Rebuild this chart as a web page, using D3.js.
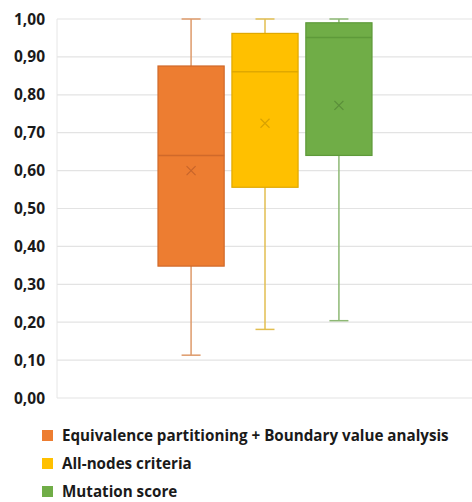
<!DOCTYPE html>
<html>
<head>
<meta charset="utf-8">
<script src="https://cdn.jsdelivr.net/npm/d3@7"></script>
<style>
  html, body { margin: 0; padding: 0; background: #fff; }
  svg { display: block; }
  text { font-family: "Open Sans", "Liberation Sans", sans-serif; font-weight: 700; fill: #1a1a1a; }
</style>
</head>
<body>
<svg id="chart" width="472" height="502"></svg>
<script>
// Series names and box-plot statistics
const seriesNames = [
  "Equivalence partitioning + Boundary value analysis",
  "All-nodes criteria",
  "Mutation score"
];
const minValues    = [0.113, 0.181, 0.204];
const q1Values     = [0.348, 0.556, 0.640];
const medianValues = [0.640, 0.861, 0.951];
const q3Values     = [0.876, 0.962, 0.990];
const maxValues    = [1.000, 1.000, 1.000];
const meanValues   = [0.600, 0.725, 0.772];
const yTicks = [0, 0.1, 0.2, 0.3, 0.4, 0.5, 0.6, 0.7, 0.8, 0.9, 1.0];

const fills   = ["#ED7D31", "#FFC000", "#70AD47"];
const strokes = ["#D0692A", "#E0A800", "#5E9A3A"];
const whisk   = ["#DE9A6A", "#E2BE50", "#8DB874"];
const marks   = ["#C8652A", "#D9A200", "#5A8E3A"];

const svg = d3.select("#chart");
const plot = { left: 57, right: 472, top: 19, bottom: 398 };

const y = d3.scaleLinear().domain([0, 1]).range([plot.bottom, plot.top]);
const x = d3.scaleBand().domain(seriesNames)
  .range([158, 372]).paddingInner(0.105).paddingOuter(0);

// Horizontal gridlines
svg.append("g").selectAll("line").data(yTicks).join("line")
  .attr("x1", plot.left).attr("x2", plot.right)
  .attr("y1", d => y(d)).attr("y2", d => y(d))
  .attr("stroke", "#e3e3e3").attr("stroke-width", 1.2);

// Left axis line
svg.append("line")
  .attr("x1", plot.left).attr("x2", plot.left)
  .attr("y1", plot.top).attr("y2", plot.bottom)
  .attr("stroke", "#e6e6e6").attr("stroke-width", 1);

// Y tick labels
const fmt = d => d3.format(".2f")(d).replace(".", ",");
svg.append("g").selectAll("text").data(yTicks).join("text")
  .attr("x", 45).attr("y", d => y(d))
  .attr("dy", "0.36em")
  .attr("text-anchor", "end")
  .attr("font-size", 15.5)
  .text(fmt);

const data = seriesNames.map((name, i) => ({
  name, i,
  min: minValues[i], q1: q1Values[i], med: medianValues[i],
  q3: q3Values[i], max: maxValues[i], mean: meanValues[i]
}));

const bw = x.bandwidth();
const capW = 19;
const g = svg.append("g").selectAll("g").data(data).join("g");

// Whiskers
g.append("line")
  .attr("x1", d => x(d.name) + bw / 2).attr("x2", d => x(d.name) + bw / 2)
  .attr("y1", d => y(d.q3)).attr("y2", d => y(d.max))
  .attr("stroke", d => whisk[d.i]).attr("stroke-width", 1.5);
g.append("line")
  .attr("x1", d => x(d.name) + bw / 2).attr("x2", d => x(d.name) + bw / 2)
  .attr("y1", d => y(d.q1)).attr("y2", d => y(d.min))
  .attr("stroke", d => whisk[d.i]).attr("stroke-width", 1.5);
g.selectAll("line.cap").data(d => [[d, d.max], [d, d.min]]).join("line")
  .attr("class", "cap")
  .attr("x1", ([d]) => x(d.name) + bw / 2 - capW / 2)
  .attr("x2", ([d]) => x(d.name) + bw / 2 + capW / 2)
  .attr("y1", ([, v]) => y(v)).attr("y2", ([, v]) => y(v))
  .attr("stroke", ([d]) => whisk[d.i]).attr("stroke-width", 1.5);

// Boxes
g.append("rect")
  .attr("x", d => x(d.name)).attr("width", bw)
  .attr("y", d => y(d.q3)).attr("height", d => y(d.q1) - y(d.q3))
  .attr("fill", d => fills[d.i])
  .attr("stroke", d => strokes[d.i]).attr("stroke-width", 1.2);

// Medians
g.append("line")
  .attr("x1", d => x(d.name)).attr("x2", d => x(d.name) + bw)
  .attr("y1", d => y(d.med)).attr("y2", d => y(d.med))
  .attr("stroke", d => strokes[d.i]).attr("stroke-width", 1.5);

// Mean markers
const m = 4.5;
g.append("path")
  .attr("d", d => {
    const cx = x(d.name) + bw / 2, cy = y(d.mean);
    return `M${cx - m},${cy - m}L${cx + m},${cy + m}M${cx - m},${cy + m}L${cx + m},${cy - m}`;
  })
  .attr("stroke", d => marks[d.i]).attr("stroke-width", 1.2).attr("fill", "none");

// Legend
const legend = svg.append("g").selectAll("g").data(seriesNames).join("g")
  .attr("transform", (d, i) => `translate(42, ${435.5 + i * 28})`);
legend.append("rect")
  .attr("x", 0).attr("y", -5.5).attr("width", 11).attr("height", 11)
  .attr("fill", (d, i) => fills[i]);
legend.append("text")
  .attr("x", 20).attr("y", 0).attr("dy", "0.36em")
  .attr("font-size", 15.2)
  .text(d => d);
</script>
</body>
</html>
